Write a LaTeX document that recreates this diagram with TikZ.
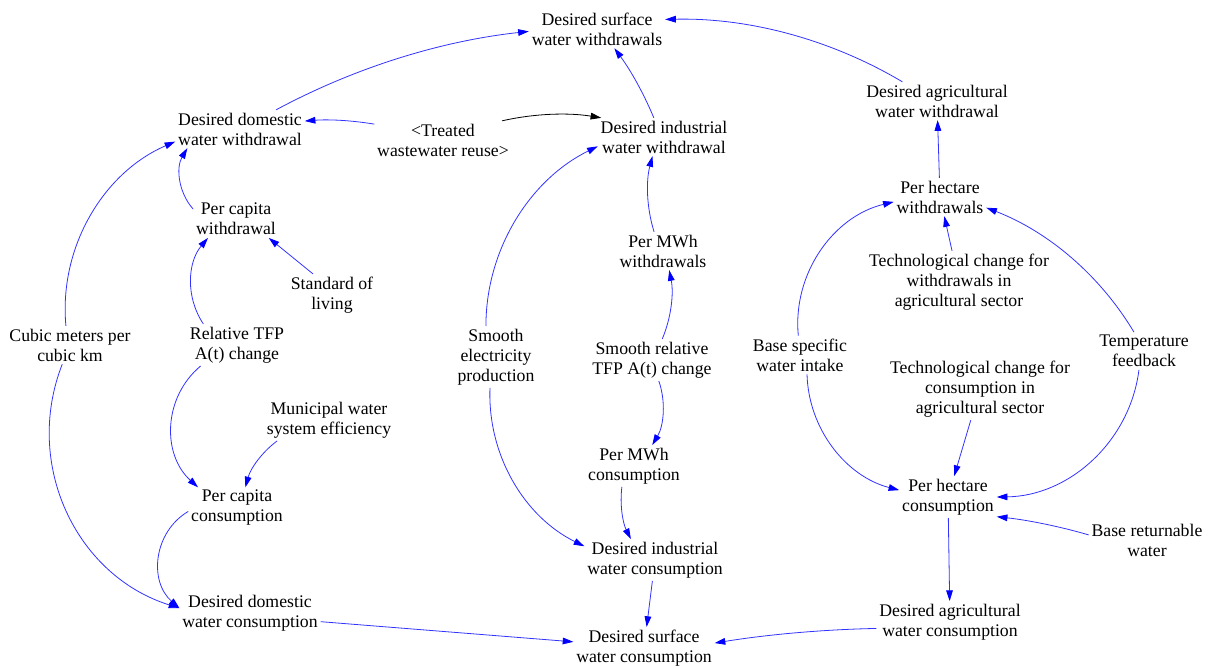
\documentclass[tikz,border=0pt]{standalone}
\usepackage{fontspec}
\setmainfont{Liberation Serif}
\usetikzlibrary{arrows.meta}
\begin{document}
\begin{tikzpicture}[x=0.75pt,y=-0.75pt,
  var/.style={align=center, inner sep=2pt, font=\fontsize{13.3}{15}\selectfont},
  link/.style={draw=blue!80, line width=0.6pt, -{Triangle[length=8pt,width=5pt,color=blue]}},
  shadowlink/.style={draw=black, line width=0.6pt, -{Triangle[length=8pt,width=5pt,color=black]}}]
\useasboundingbox (0,0) rectangle (1208,668);

% variables
\node[var] (dsww)  at (597,29)   {Desired surface\\water withdrawals};
\node[var] (ddww)  at (240,129)  {Desired domestic\\water withdrawal};
\node[var] (twr)   at (443,140)  {<Treated\\wastewater reuse>};
\node[var] (diww)  at (664,137)  {Desired industrial\\water withdrawal};
\node[var] (daww)  at (937,101)  {Desired agricultural\\water withdrawal};
\node[var] (pcw)   at (236,219)  {Per capita\\withdrawal};
\node[var] (sol)   at (332,295)  {Standard of\\living};
\node[var] (phw)   at (940,197)  {Per hectare\\withdrawals};
\node[var] (pmw)   at (663,251)  {Per MWh\\withdrawals};
\node[var] (tcw)   at (959,282)  {Technological change for\\withdrawals in\\agricultural sector};
\node[var] (cmk)   at (70,345)   {Cubic meters per\\cubic km};
\node[var] (rtfp)  at (237,345)  {Relative TFP\\A(t) change};
\node[var] (sep)   at (496,357)  {Smooth\\electricity\\production};
\node[var] (srtfp) at (652,360)  {Smooth relative\\TFP A(t) change};
\node[var] (bswi)  at (800,355)  {Base specific\\water intake};
\node[var] (tf)    at (1144,351) {Temperature\\feedback};
\node[var] (tcc)   at (980,389)  {Technological change for\\consumption in\\agricultural sector};
\node[var] (mwse)  at (329,420)  {Municipal water\\system efficiency};
\node[var] (pmc)   at (634,466)  {Per MWh\\consumption};
\node[var] (pcc)   at (237,508)  {Per capita\\consumption};
\node[var] (phc)   at (948,497)  {Per hectare\\consumption};
\node[var] (brw)   at (1147,540) {Base returnable\\water};
\node[var] (diwc)  at (655,560)  {Desired industrial\\water consumption};
\node[var] (ddwc)  at (250,613)  {Desired domestic\\water consumption};
\node[var] (dawc)  at (950,622)  {Desired agricultural\\water consumption};
\node[var] (dswc)  at (644,648)  {Desired surface\\water consumption};

% withdrawal side
\draw[link] (ddww.28)  to[bend left=11, looseness=0.86] (dsww.182);
\draw[link] (diww.118) to[bend right=7, looseness=0.86] (dsww.312);
\draw[link] (daww.151) to[bend right=16, looseness=0.87] (dsww.8);
\draw[link] (twr.167)  to[bend right=7, looseness=0.86] (ddww.7);
\draw[shadowlink] (twr.18) to[bend left=11, looseness=0.86] (diww.163);
\draw[link] (pcw.167)  to[bend left=36, looseness=0.94] (ddww.200);
\draw[link] (sol.132) -- (pcw.330);
\draw[link] (rtfp.148) to[bend left=37, looseness=0.95] (pcw.214);
\draw[link] (pmw.115)  to[bend left=16, looseness=0.87] (diww.239);
\draw[link] (srtfp.64) to[bend right=17, looseness=0.87] (pmw.288);
\draw[link] (sep.108)  to[bend left=32, looseness=0.92] (diww.188);
\draw[link] (phw) -- (daww);
\draw[link] (tcw) -- (phw);
\draw[link] (tf.118)   to[bend right=19, looseness=0.88] (phw.347);
\draw[link] (bswi.95)  to[bend left=41, looseness=0.97] (phw.186);
\draw[link] (cmk.102)  to[bend left=36, looseness=0.94] (ddww.191);

% consumption side
\draw[link] (bswi.290) to[bend right=37, looseness=0.95] (phc.172);
\draw[link] (tf.255)   to[bend left=41, looseness=0.97] (phc.0);
\draw[link] (tcc) -- (phc);
\draw[link] (brw.175)  to[bend right=5, looseness=0.85] (phc.338);
\draw[link] (phc) -- (dawc);
\draw[link] (dawc.185) to[bend right=4, looseness=0.85] (dswc.4);
\draw[link] (ddwc.353) -- (dswc.175);
\draw[link] (diwc) -- (dswc);
\draw[link] (pmc.240)  to[bend right=17, looseness=0.87] (diwc.139);
\draw[link] (srtfp.288) to[bend left=25, looseness=0.89] (pmc.49);
\draw[link] (sep.259)  to[bend right=33, looseness=0.93] (diwc.169);
\draw[link] (cmk.248)  to[bend right=47, looseness=1.02] (ddwc.176);
\draw[link] (rtfp.210) to[bend right=49, looseness=1.03] (pcc.152);
\draw[link] (mwse.202) to[bend right=19, looseness=0.88] (pcc.68);
\draw[link] (pcc.184)  to[bend right=54, looseness=1.07] (ddwc.176);
\end{tikzpicture}
\end{document}
